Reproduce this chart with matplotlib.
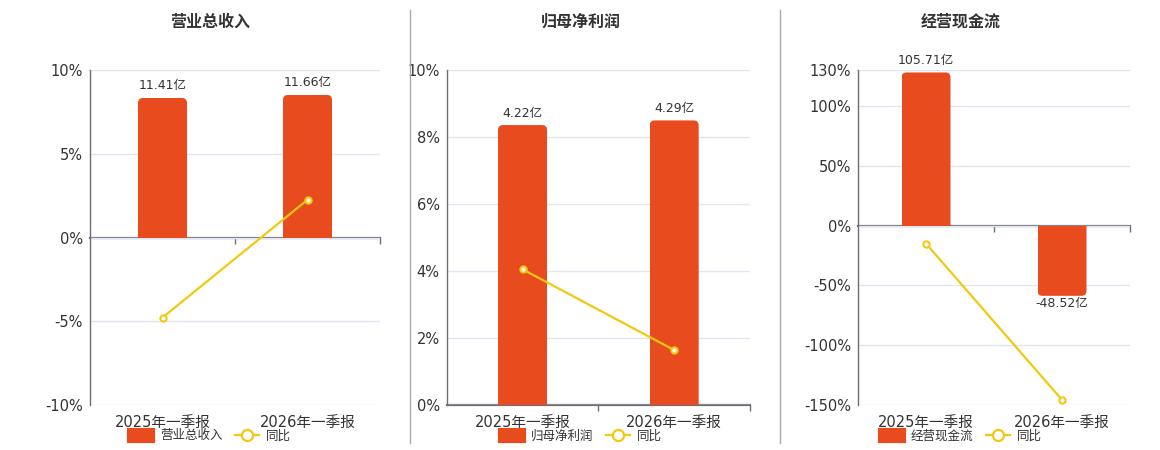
import matplotlib
matplotlib.use("Agg")
import matplotlib.pyplot as plt
from matplotlib.patches import FancyBboxPatch, Rectangle, Patch
from matplotlib.lines import Line2D
from matplotlib.ticker import FixedLocator, FuncFormatter

plt.rcParams['font.family'] = ['DejaVu Sans', 'Noto Sans CJK SC']

# ---------------- data ----------------
categories = ['2025年一季报', '2026年一季报']

revenue_title = '营业总收入'
revenue = [11.41, 11.66]          # 亿
revenue_yoy = [-4.78, 2.25]       # %

profit_title = '归母净利润'
profit = [4.22, 4.29]             # 亿
profit_yoy = [4.05, 1.64]         # %

cash_title = '经营现金流'
cashflow = [105.71, -48.52]       # 亿
cashflow_yoy = [-15.1, -145.7]    # %

# ---------------- styles ----------------
BAR_COLOR = '#E84C1E'
LINE_COLOR = '#F2C811'
GRID_COLOR = '#E0E6F1'
AXIS_COLOR = '#6E7079'
TEXT_COLOR = '#333333'

W, H = 1160, 450
fig = plt.figure(figsize=(W / 100, H / 100), dpi=100)

panels = [
    dict(title=revenue_title, bars=revenue, yoy=revenue_yoy,
         box=(90, 70, 380, 405), pct_lim=(-10, 10), pct_ticks=[-10, -5, 0, 5, 10],
         bar_lim=(-13.7, 13.7), cx=210),
    dict(title=profit_title, bars=profit, yoy=profit_yoy,
         box=(446.7, 70, 750, 405), pct_lim=(0, 10), pct_ticks=[0, 2, 4, 6, 8, 10],
         bar_lim=(0, 5.05), cx=581),
    dict(title=cash_title, bars=cashflow, yoy=cashflow_yoy,
         box=(858, 70, 1130, 405), pct_lim=(-150, 130), pct_ticks=[-150, -100, -50, 0, 50, 100, 130],
         bar_lim=(-123.9, 107.4), cx=961),
]

x = list(range(len(categories)))
BAR_W_PX = 49
RADIUS_PX = 5

for p in panels:
    l, t, r, b = p['box']
    rect = [l / W, 1 - b / H, (r - l) / W, (b - t) / H]
    ax = fig.add_axes(rect)
    ax.set_xlim(-0.5, len(categories) - 0.5)
    ax.set_ylim(*p['pct_lim'])
    ax.yaxis.set_major_locator(FixedLocator(p['pct_ticks']))
    ax.yaxis.set_major_formatter(FuncFormatter(lambda v, pos: f'{v:g}%'))
    ax.grid(axis='y', color=GRID_COLOR, lw=1)
    ax.set_axisbelow(True)
    for s in ['top', 'right', 'bottom']:
        ax.spines[s].set_visible(False)
    ax.spines['left'].set_color(AXIS_COLOR)
    ax.spines['left'].set_linewidth(1)
    ax.tick_params(axis='y', length=0, pad=5, labelsize=10.5, labelcolor=TEXT_COLOR)
    ax.set_xticks(x)
    ax.set_xticklabels(categories)
    ax.tick_params(axis='x', length=0, pad=7, labelsize=10.5, labelcolor=TEXT_COLOR)

    # zero axis line with category-boundary ticks
    sec = ax.secondary_xaxis(0, transform=ax.transData)
    sec.set_xticks([i + 0.5 for i in x])
    sec.set_xticklabels([])
    sec.spines['bottom'].set_color(AXIS_COLOR)
    sec.spines['bottom'].set_linewidth(1.6)
    sec.tick_params(axis='x', length=4, width=1, color=AXIS_COLOR, direction='out')

    # bar axis
    axb = ax.twinx()
    axb.set_ylim(*p['bar_lim'])
    axb.set_xlim(ax.get_xlim())
    axb.axis('off')
    px_x = (r - l) / (ax.get_xlim()[1] - ax.get_xlim()[0])
    bl = p['bar_lim']
    px_y = (b - t) / (bl[1] - bl[0])
    bw = BAR_W_PX / px_x
    bars = axb.bar(x, p['bars'], width=bw, color=BAR_COLOR)
    rx = RADIUS_PX / px_x
    ry = RADIUS_PX / px_y
    for patch, v in zip(bars.patches, p['bars']):
        bx = patch.get_x()
        patch.set_visible(False)
        lo, hi = min(0, v), max(0, v)
        # extend past the baseline so the baseline corners stay square, then clip
        if v >= 0:
            fy, fh = lo - 2 * ry, (hi - lo) + 2 * ry
        else:
            fy, fh = lo, (hi - lo) + 2 * ry
        fb = FancyBboxPatch((bx, fy), bw, fh,
                            boxstyle=f'round,pad=0,rounding_size={rx}',
                            mutation_aspect=px_x / px_y,
                            facecolor=BAR_COLOR, edgecolor='none')
        axb.add_patch(fb)
        clip = Rectangle((bx, lo), bw, hi - lo, transform=axb.transData)
        fb.set_clip_path(clip)
    for xi, v in zip(x, p['bars']):
        axb.annotate(f'{v:.2f}亿', (xi, v), xytext=(0, 4 if v >= 0 else -1),
                     textcoords='offset points', ha='center',
                     va='bottom' if v >= 0 else 'top', fontsize=9, color=TEXT_COLOR)

    # line axis
    axl = ax.twinx()
    axl.set_ylim(*p['pct_lim'])
    axl.set_xlim(ax.get_xlim())
    axl.axis('off')
    axl.plot(x, p['yoy'], color=LINE_COLOR, lw=1.6, marker='o', ms=4.5,
             mfc='white', mec=LINE_COLOR, mew=1.5, clip_on=False)

    fig.text(p['cx'] / W, 1 - 22 / H, p['title'], ha='center', va='center',
             fontsize=11.5, fontweight='bold', color=TEXT_COLOR)

    handles = [Patch(facecolor=BAR_COLOR, edgecolor=BAR_COLOR, linewidth=3,
                     joinstyle='round'),
               Line2D([0], [0], color=LINE_COLOR, lw=1.6, marker='o', ms=8,
                      mfc='white', mec=LINE_COLOR, mew=1.6)]
    fig.legend(handles, [p['title'], '同比'], loc='center',
               bbox_to_anchor=(p['cx'] / W, 1 - 436 / H), ncol=2, frameon=False,
               fontsize=9, handlelength=1.9, handleheight=1.0, handletextpad=0.6,
               columnspacing=1.0, labelcolor=TEXT_COLOR)

for sx in [410, 780]:
    fig.add_artist(Line2D([sx / W, sx / W], [1 - 10 / H, 1 - 443 / H],
                          color='#AAAAAA', lw=1))

fig.savefig('out.png', dpi=100)
